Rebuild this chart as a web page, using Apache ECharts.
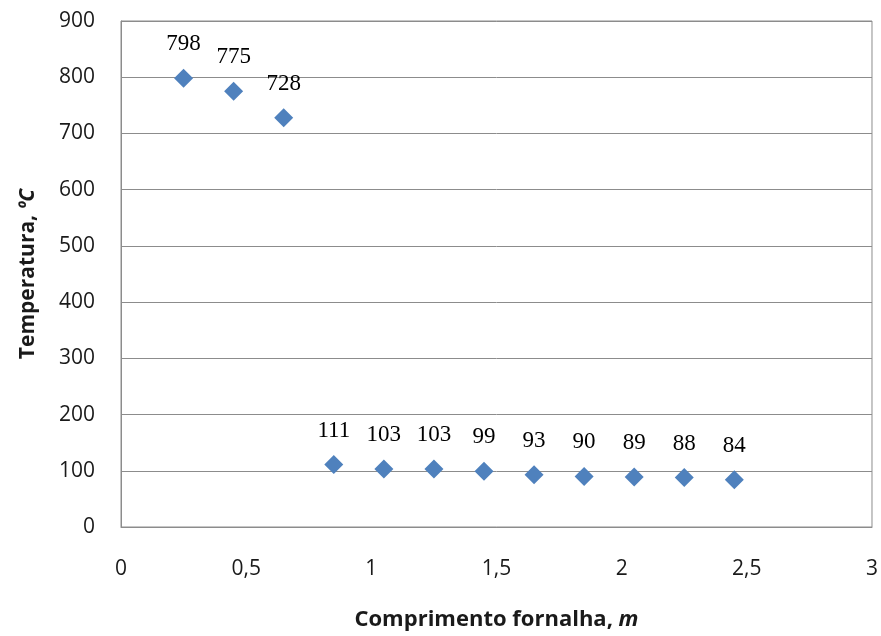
<!DOCTYPE html>
<html>
<head>
<meta charset="utf-8">
<script src="https://cdn.jsdelivr.net/npm/echarts@6/dist/echarts.min.js"></script>
<style>
  html, body { margin: 0; padding: 0; background: #ffffff; }
  #chart { width: 881px; height: 636px; }
</style>
</head>
<body>
<div id="chart"></div>
<script>
// Furnace length (m) and measured temperature (ºC)
const comprimento = [0.25, 0.45, 0.65, 0.85, 1.05, 1.25, 1.45, 1.65, 1.85, 2.05, 2.25, 2.45];
const temperatura = [798, 775, 728, 111, 103, 103, 99, 93, 90, 89, 88, 84];

const xTicks = { min: 0, max: 3, interval: 0.5 };
const yTicks = { min: 0, max: 900, interval: 100 };

const pontos = comprimento.map((x, i) => [x, temperatura[i]]);

const tickFont = { fontFamily: 'Open Sans', fontSize: 21, color: '#1a1a1a' };

const chart = echarts.init(document.getElementById('chart'), null, { renderer: 'canvas' });
chart.setOption({
  backgroundColor: '#ffffff',
  animation: false,
  grid: { left: 121, right: 8, top: 21, bottom: 109, show: true, borderColor: '#8c8c8c', borderWidth: 1 },
  xAxis: {
    type: 'value',
    min: xTicks.min, max: xTicks.max, interval: xTicks.interval,
    axisLine: { show: true, onZero: false, lineStyle: { color: '#8c8c8c', width: 1 } },
    axisTick: { show: false },
    splitLine: { show: false },
    axisLabel: Object.assign({ margin: 32, formatter: v => String(v).replace('.', ',') }, tickFont),
    name: '{b|Comprimento fornalha, }{bi|m}',
    nameLocation: 'middle',
    nameGap: 82,
    nameTextStyle: {
      rich: {
        b: { fontFamily: 'Open Sans', fontWeight: 'bold', fontSize: 22, color: '#1a1a1a' },
        bi: { fontFamily: 'Open Sans', fontWeight: 'bold', fontStyle: 'italic', fontSize: 22, color: '#1a1a1a' }
      }
    }
  },
  yAxis: {
    type: 'value',
    min: yTicks.min, max: yTicks.max, interval: yTicks.interval,
    axisLine: { show: true, lineStyle: { color: '#8c8c8c', width: 1 } },
    axisTick: { show: false },
    splitLine: { show: true, lineStyle: { color: '#8c8c8c', width: 1 } },
    axisLabel: Object.assign({ margin: 26 }, tickFont),
    name: '{b|Temperatura, }{bi|ºC}',
    nameLocation: 'middle',
    nameGap: 82,
    nameTextStyle: {
      rich: {
        b: { fontFamily: 'Open Sans', fontWeight: 'bold', fontSize: 21, color: '#1a1a1a' },
        bi: { fontFamily: 'Open Sans', fontWeight: 'bold', fontStyle: 'italic', fontSize: 21, color: '#1a1a1a' }
      }
    }
  },
  series: [{
    type: 'scatter',
    data: pontos,
    symbol: 'diamond',
    symbolSize: [19, 19],
    itemStyle: { color: '#4f81bd', opacity: 1 },
    label: {
      show: true,
      position: 'top',
      distance: 13,
      formatter: p => String(p.value[1]),
      fontFamily: 'Liberation Serif',
      fontSize: 23,
      color: '#000000'
    }
  }]
});
</script>
</body>
</html>
